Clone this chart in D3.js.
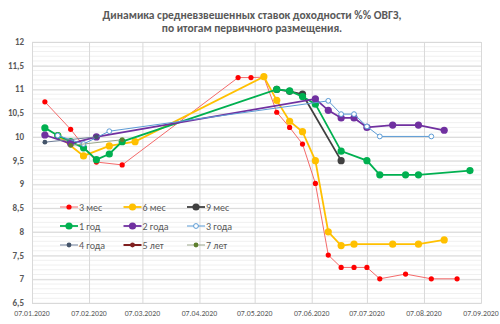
<!DOCTYPE html>
<html>
<head>
<meta charset="utf-8">
<script src="https://cdn.jsdelivr.net/npm/d3@7"></script>
<style>
body { margin: 0; background: #fff; }
text { font-family: Calibri, Carlito, "Open Sans", sans-serif; }
</style>
</head>
<body>
<div id="chart"></div>
<script>
var W = 500, H = 324;
var margin = {top: 42, right: 19, bottom: 21, left: 32};

var titleLines = ["Динамика средневзвешенных ставок доходности %% ОВГЗ,", "по итогам первичного размещения."];
var yTicks = [6.5, 7, 7.5, 8, 8.5, 9, 9.5, 10, 10.5, 11, 11.5, 12];
var xTicks = ["2020-01-07", "2020-02-07", "2020-03-07", "2020-04-07", "2020-05-07", "2020-06-07", "2020-07-07", "2020-08-07", "2020-09-07"];

// series: [date, value]
var m3 = [["2020-01-14",10.74],["2020-01-28",10.16],["2020-02-11",9.47],["2020-02-25",9.41],["2020-04-28",11.25],["2020-05-05",11.25],["2020-05-12",11.26],["2020-05-19",10.52],["2020-05-26",10.2],["2020-06-02",9.85],["2020-06-09",9.02],["2020-06-16",7.51],["2020-06-23",7.25],["2020-06-30",7.25],["2020-07-07",7.25],["2020-07-14",7.01],["2020-07-28",7.11],["2020-08-11",7.01],["2020-08-25",7.01]];
var m6 = [["2020-01-21",10.03],["2020-02-04",9.6],["2020-02-18",9.81],["2020-03-03",9.9],["2020-05-12",11.27],["2020-05-19",10.77],["2020-05-26",10.33],["2020-06-02",10.11],["2020-06-09",9.5],["2020-06-16",8.0],["2020-06-23",7.71],["2020-06-30",7.74],["2020-07-21",7.74],["2020-08-04",7.74],["2020-08-18",7.83]];
var m9 = [["2020-05-19",11.0],["2020-05-26",10.96],["2020-06-02",10.9],["2020-06-23",9.5]];
var y1 = [["2020-01-14",10.19],["2020-01-21",10.03],["2020-01-28",9.9],["2020-02-04",9.77],["2020-02-11",9.52],["2020-02-18",9.64],["2020-02-25",9.9],["2020-05-19",11.0],["2020-05-26",10.97],["2020-06-02",10.85],["2020-06-09",10.69],["2020-06-23",9.7],["2020-07-07",9.5],["2020-07-14",9.2],["2020-07-28",9.2],["2020-08-04",9.2],["2020-09-01",9.29]];
var y2 = [["2020-01-14",10.04],["2020-01-28",9.86],["2020-02-11",10.0],["2020-06-09",10.8],["2020-06-16",10.56],["2020-06-23",10.4],["2020-06-30",10.4],["2020-07-07",10.2],["2020-07-21",10.25],["2020-08-04",10.25],["2020-08-18",10.14]];
var y3 = [["2020-01-21",10.03],["2020-02-04",9.85],["2020-02-18",10.12],["2020-06-16",10.76],["2020-06-23",10.48],["2020-06-30",10.48],["2020-07-07",10.22],["2020-07-14",10.01],["2020-08-11",10.01]];
var y4 = [["2020-01-14",9.89],["2020-02-11",10.0]];
var y5 = [];
var y7 = [["2020-01-28",9.82],["2020-02-25",9.94]];

var series = [
	{name: "3 мес", data: m3, color: "#ff0000", line: "#f46a6a", lw: 1, r: 2.6},
	{name: "6 мес", data: m6, color: "#ffc000", line: "#ffc000", lw: 1.8, r: 3.6},
	{name: "9 мес", data: m9, color: "#404040", line: "#404040", lw: 1.8, r: 3.6},
	{name: "1 год", data: y1, color: "#00b050", line: "#00b050", lw: 1.8, r: 3.6},
	{name: "2 года", data: y2, color: "#7030a0", line: "#7030a0", lw: 1.8, r: 3.6},
	{name: "3 года", data: y3, color: "#5b9bd5", line: "#5b9bd5", lw: 1, r: 2.4, hollow: true},
	{name: "4 года", data: y4, color: "#44546a", line: "#6f7f99", lw: 1, r: 2.4},
	{name: "5 лет", data: y5, color: "#7f1f1f", line: "#7f1f1f", lw: 2, r: 2.4},
	{name: "7 лет", data: y7, color: "#5e7f2e", line: "#9aa58a", lw: 1, r: 2.4}
];

var parse = d3.timeParse("%Y-%m-%d");

var svg = d3.select("#chart").append("svg")
	.attr("width", W)
	.attr("height", H);

var x = d3.scaleTime()
	.domain([parse(xTicks[0]), parse(xTicks[xTicks.length - 1])])
	.range([margin.left, W - margin.right]);

var y = d3.scaleLinear()
	.domain([6.5, 12])
	.range([H - margin.bottom, margin.top]);

//title
svg.selectAll(".title")
	.data(titleLines).enter()
	.append("text")
	.attr("x", 252)
	.attr("y", function(d, i) { return 19 + i * 13; })
	.attr("text-anchor", "middle")
	.attr("font-size", 11.5)
	.attr("font-weight", "bold")
	.attr("fill", "#595959")
	.text(function(d) { return d; });

//minor gridlines
svg.append("g")
	.selectAll("line")
	.data(d3.range(65, 121).map(function(v) { return v / 10; })).enter()
	.append("line")
	.attr("x1", margin.left).attr("x2", W - margin.right)
	.attr("y1", function(d) { return y(d); }).attr("y2", function(d) { return y(d); })
	.attr("stroke", "#f0f0f0");

//major gridlines
svg.append("g")
	.call(d3.axisLeft(y).tickValues(yTicks).tickSize(-(W - margin.left - margin.right)).tickFormat(""))
	.attr("transform", "translate(" + margin.left + ",0)")
	.call(function(g) { g.select(".domain").remove(); })
	.selectAll("line").attr("stroke", "#d9d9d9");

svg.append("g")
	.call(d3.axisBottom(x).tickValues(xTicks.map(parse)).tickSize(-(H - margin.top - margin.bottom)).tickFormat(""))
	.attr("transform", "translate(0," + (H - margin.bottom) + ")")
	.call(function(g) { g.select(".domain").attr("stroke", "#d9d9d9"); })
	.selectAll("line").attr("stroke", "#d9d9d9");

//tick labels
svg.selectAll(".ylab")
	.data(yTicks).enter()
	.append("text")
	.attr("x", 24)
	.attr("y", function(d) { return y(d) + 3; })
	.attr("text-anchor", "end")
	.attr("font-size", 9)
	.attr("font-weight", "bold")
	.attr("fill", "#595959")
	.text(function(d) { return String(d).replace(".", ","); });

svg.selectAll(".xlab")
	.data(xTicks).enter()
	.append("text")
	.attr("x", function(d) { return x(parse(d)); })
	.attr("y", 316)
	.attr("text-anchor", "middle")
	.attr("font-size", 7.8)
	.attr("fill", "#595959")
	.text(function(d) { return d3.timeFormat("%d.%m.%Y")(parse(d)); });

//lines and markers
var line = d3.line()
	.x(function(d) { return x(parse(d[0])); })
	.y(function(d) { return y(d[1]); });

series.forEach(function(s) {
	var g = svg.append("g");
	g.append("path")
		.attr("d", line(s.data))
		.attr("fill", "none")
		.attr("stroke", s.line)
		.attr("stroke-width", s.lw);
	g.selectAll("circle")
		.data(s.data).enter()
		.append("circle")
		.attr("cx", function(d) { return x(parse(d[0])); })
		.attr("cy", function(d) { return y(d[1]); })
		.attr("r", s.r)
		.attr("fill", s.hollow ? "#fff" : s.color)
		.attr("stroke", s.color)
		.attr("stroke-width", s.hollow ? 1 : 0);
});

//legend
var leg = svg.append("g");
series.forEach(function(s, i) {
	var lx = 60 + (i % 3) * 63.5;
	var ly = 207 + Math.floor(i / 3) * 19;
	leg.append("line")
		.attr("x1", lx).attr("x2", lx + 18)
		.attr("y1", ly).attr("y2", ly)
		.attr("stroke", s.line)
		.attr("stroke-width", s.lw);
	leg.append("circle")
		.attr("cx", lx + 9).attr("cy", ly)
		.attr("r", s.r)
		.attr("fill", s.hollow ? "#fff" : s.color)
		.attr("stroke", s.color)
		.attr("stroke-width", s.hollow ? 1 : 0);
	leg.append("text")
		.attr("x", lx + 19)
		.attr("y", ly + 3.5)
		.attr("font-size", 10)
		.attr("fill", "#595959")
		.text(s.name);
});
</script>
</body>
</html>
